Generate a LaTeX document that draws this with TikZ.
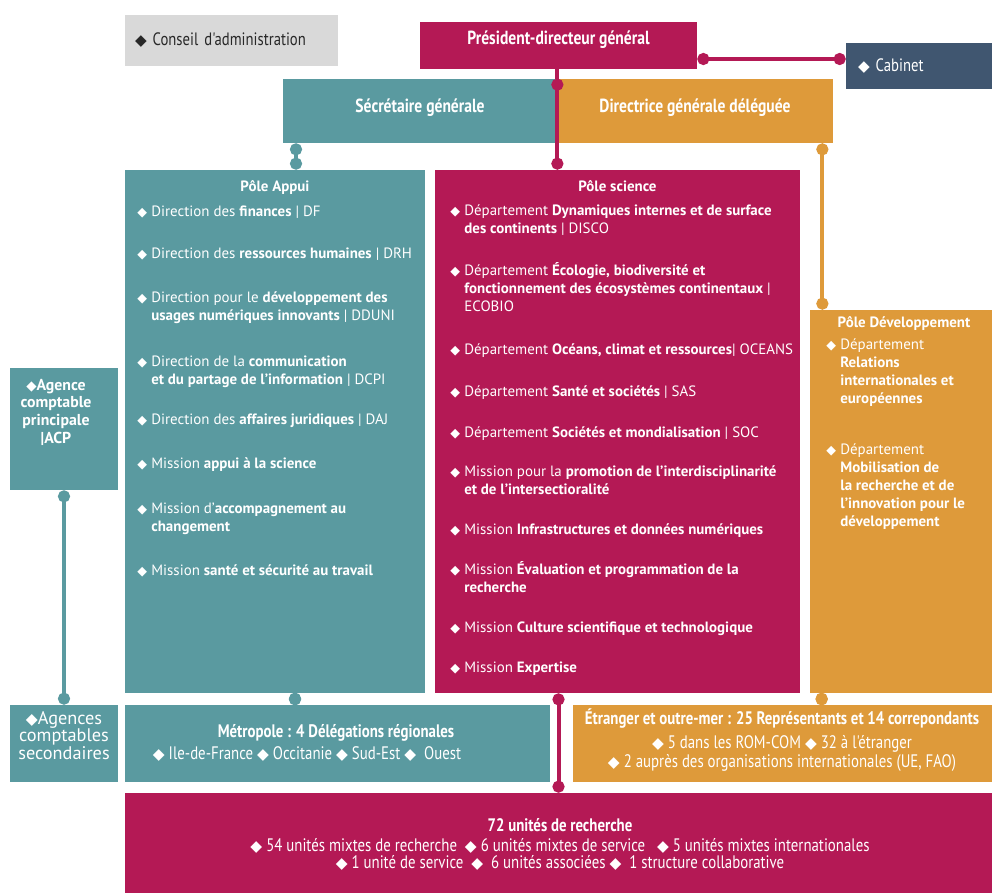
\documentclass[tikz,border=0pt]{standalone}
\usepackage{fontspec}
\setmainfont{PT Sans}
\newfontfamily\condfont{PT Sans}[FakeStretch=0.82]
\newfontfamily\symfont{DejaVu Sans}
\usetikzlibrary{arrows.meta}

\definecolor{tealbox}{RGB}{90,154,160}
\definecolor{crimbox}{RGB}{180,25,85}
\definecolor{orabox}{RGB}{222,154,58}
\definecolor{slatebox}{RGB}{64,86,112}
\definecolor{greybox}{RGB}{217,217,217}
\definecolor{darktext}{RGB}{40,40,40}

\newcommand{\bodyfont}{\fontsize{8.5}{10.2}\selectfont}
\newcommand{\headfont}{\condfont\bfseries\fontsize{10.8}{12}\selectfont}
\newcommand{\lowfont}{\condfont\bfseries\fontsize{10.3}{9.5}\selectfont}
\newcommand{\dia}{{\symfont\scalebox{0.85}{◆}}}
\newcommand{\itm}{\makebox[2.8mm][l]{\dia}}
\newcommand{\ind}{\hspace*{2.8mm}}

\begin{document}
\begin{tikzpicture}[
    x=0.2mm, y=-0.2mm,
    box/.style={rectangle, inner sep=0pt, draw=none},
    title/.style={text=white, inner sep=0pt, font=\bodyfont\bfseries},
    head/.style={text=white, inner sep=0pt, font=\headfont},
    low/.style={text=white, inner sep=0pt, font=\lowfont},
    item/.style={anchor=base west, inner sep=0pt, align=left, text=white, font=\bodyfont},
    link/.style={line width=0.8mm, {Circle[length=2.4mm]}-{Circle[length=2.4mm]}}
]
\useasboundingbox[fill=white] (0,0) rectangle (992,893);

% top row
\node[box, fill=greybox, text=darktext, minimum height=10.2mm, text width=38.6mm, inner xsep=2mm, align=left, font=\condfont\fontsize{10.2}{12}\selectfont] (ca) at (231.5,40.5) {\dia\ Conseil d'administration};
\node[box, fill=crimbox, minimum width=55.4mm, minimum height=9.4mm] (pdg) at (558.5,45.5) {};
\node[head, anchor=base] (pdgt) at (558.5,44) {Président-directeur général};
\node[box, fill=slatebox, text=white, minimum height=9.2mm, text width=24.4mm, inner xsep=2.4mm, align=left, font=\condfont\fontsize{10.2}{12}\selectfont] (cab) at (919,66) {\dia\ Cabinet};

\node[box, fill=tealbox, minimum width=54.8mm, minimum height=12.8mm] (sg) at (420,111) {};
\node[head, anchor=base] (sgt) at (420,112) {Sécrétaire générale};
\node[box, fill=orabox, minimum width=55.2mm, minimum height=12.8mm] (dgd) at (695,111) {};
\node[head, anchor=base] (dgdt) at (695,112) {Directrice générale déléguée};

% poles (base = last line)
\node[box, fill=tealbox, minimum width=60mm, minimum height=104.6mm] (appui) at (275,431.5) {};
\node[title, anchor=base] (appuit) at (275,191) {Pôle Appui};
\node[item] (a1) at (137,216) {\itm Direction des \textbf{finances} | DF};
\node[item] (a2) at (137,258) {\itm Direction des \textbf{ressources humaines} | DRH};
\node[item] (a3) at (137,320) {\itm Direction pour le \textbf{développement des}\\\ind\textbf{usages numériques innovants} | DDUNI};
\node[item] (a4) at (137,384) {\itm Direction de la \textbf{communication}\\\ind\textbf{et du partage de l'information} | DCPI};
\node[item] (a5) at (137,424) {\itm Direction des \textbf{affaires juridiques} | DAJ};
\node[item] (a6) at (137,468) {\itm Mission \textbf{appui à la science}};
\node[item] (a7) at (137,531) {\itm Mission d'\textbf{accompagnement au}\\\ind\textbf{changement}};
\node[item] (a8) at (137,575) {\itm Mission \textbf{santé et sécurité au travail}};

\node[box, fill=crimbox, minimum width=73mm, minimum height=104.6mm] (sci) at (617.5,431.5) {};
\node[title, anchor=base] (scit) at (617.5,191) {Pôle science};
\node[item] (s1) at (450,233) {\itm Département \textbf{Dynamiques internes et de surface}\\\ind\textbf{des continents} | DISCO};
\node[item] (s2) at (450,311) {\itm Département \textbf{Écologie, biodiversité et}\\\ind\textbf{fonctionnement des écosystèmes continentaux} |\\\ind ECOBIO};
\node[item] (s3) at (450,354) {\itm Département \textbf{Océans, climat et ressources}| OCEANS};
\node[item] (s4) at (450,396) {\itm Département \textbf{Santé et sociétés} | SAS};
\node[item] (s5) at (450,437) {\itm Département \textbf{Sociétés et mondialisation} | SOC};
\node[item] (s6) at (450,494) {\itm Mission pour la \textbf{promotion de l'interdisciplinarité}\\\ind\textbf{et de l'intersectioralité}};
\node[item] (s7) at (450,534) {\itm Mission \textbf{Infrastructures et données numériques}};
\node[item] (s8) at (450,592) {\itm Mission \textbf{Évaluation et programmation de la}\\\ind\textbf{recherche}};
\node[item] (s9) at (450,632) {\itm Mission \textbf{Culture scientifique et technologique}};
\node[item] (s10) at (450,672) {\itm Mission \textbf{Expertise}};

\node[box, fill=orabox, minimum width=36.4mm, minimum height=76.6mm] (dev) at (901,501.5) {};
\node[title, anchor=base] (devt) at (904,327) {Pôle Développement};
\node[item] (d1) at (826,403) {\itm Département\\\ind\textbf{Relations}\\\ind\textbf{internationales et}\\\ind\textbf{européennes}};
\node[item] (d2) at (826,526) {\itm Département\\\ind\textbf{Mobilisation de}\\\ind\textbf{la recherche et de}\\\ind\textbf{l'innovation pour le}\\\ind\textbf{développement}};

% left column
\node[box, fill=tealbox, minimum width=21.6mm, minimum height=24.4mm] (acp) at (64,429) {};
\node[title, align=center, anchor=base, font=\bfseries\fontsize{9}{10}\selectfont] (acpt) at (56,443) {\dia Agence\\comptable\\principale\\|ACP};
\node[box, fill=tealbox, minimum width=21.6mm, minimum height=15.4mm] (sec) at (64,743.5) {};
\node[title, align=center, anchor=base, font=\fontsize{10.4}{9.9}\selectfont] (sect) at (64,759) {\dia Agences\\comptables\\secondaires};

% bottom rows
\node[box, fill=tealbox, minimum width=85mm, minimum height=15.4mm] (metro) at (337.5,743.5) {};
\node[low, anchor=base] (metrot) at (336,737) {Métropole : 4 Délégations régionales};
\node[low, anchor=base] (metrol) at (307,759) {\mdseries\dia\ Ile-de-France \dia\ Occitanie \dia\ Sud-Est \dia\ \ Ouest};
\node[box, fill=orabox, minimum width=83.8mm, minimum height=15.4mm] (etr) at (782.5,743.5) {};
\node[low, align=center, anchor=base] (etrt) at (782,767) {Étranger et outre-mer : 25 Représentants et 14 correpondants\\[3pt]
  \mdseries\dia\ 5 dans les ROM-COM \dia\ 32 à l'étranger\\
  \mdseries\dia\ 2 auprès des organisations internationales (UE, FAO)};
\node[box, fill=crimbox, minimum width=173.4mm, minimum height=20mm] (units) at (558.5,843) {};
\node[low, align=center, anchor=base] (unitst) at (560,868) {72 unités de recherche\\[2pt]
  \mdseries\dia\ 54 unités mixtes de recherche \ \dia\ 6 unités mixtes de service \ \ \dia\ 5 unités mixtes internationales\\
  \mdseries\dia\ 1 unité de service \ \dia\ \ 6 unités associées \dia\ \ 1 structure collaborative};

% connectors
\draw[link, crimbox] ([yshift=-2.7mm]pdg.east) -- ([yshift=-2.7mm]pdg.east -| cab.west);
\draw[crimbox, line width=0.8mm] (pdg.south -| sg.north east) -- (sg.north east);
\draw[link, crimbox] (sg.north east) -- (sg.north east |- sci.north);
\draw[link, tealbox] ([xshift=4.2mm]appui.north |- sg.south) -- ([xshift=4.2mm]appui.north);
\draw[link, orabox] ([xshift=-2.2mm]dgd.south east) -- ([xshift=-2.2mm]dgd.south east |- dev.north);
\draw[link, tealbox] (acp.south) -- (sec.north);
\draw[link, tealbox] ([xshift=4mm]appui.south) -- ([xshift=4mm]appui.south |- metro.north);
\draw[link, orabox] ([xshift=2.4mm]dev.south west) -- ([xshift=2.4mm]dev.south west |- etr.north);
\draw[link, crimbox] (units.north |- sci.south) -- (units.north);

\end{tikzpicture}
\end{document}
